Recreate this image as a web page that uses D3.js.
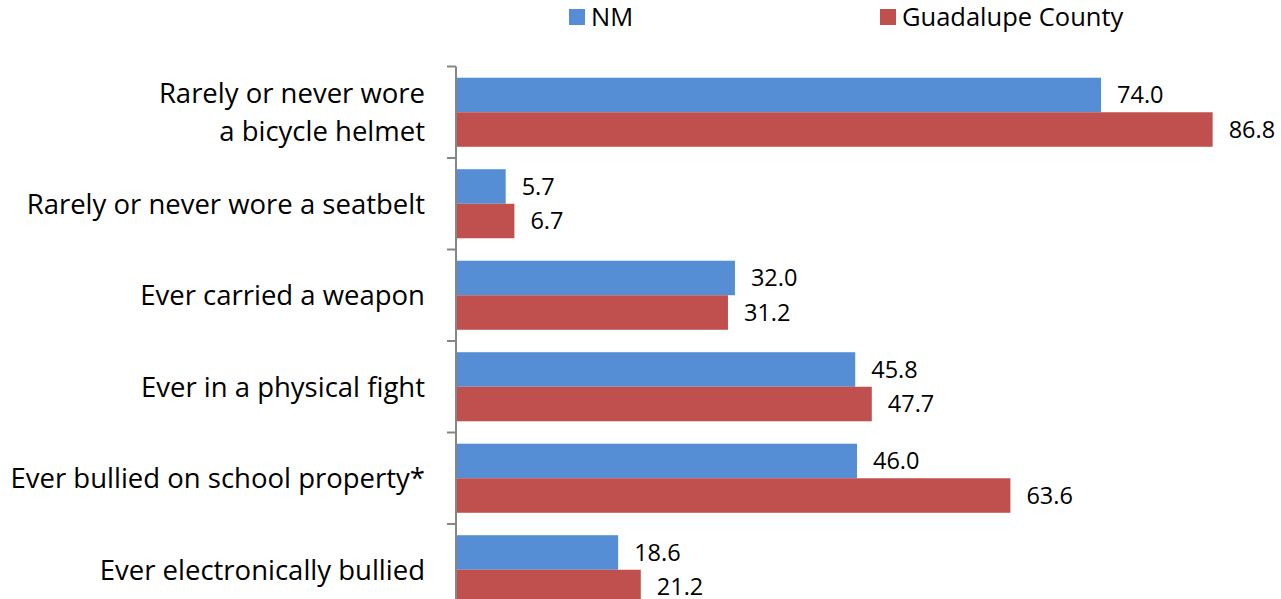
<!DOCTYPE html>
<html>
<head>
<meta charset="utf-8">
<title>Injury and violence indicators</title>
<script src="https://cdn.jsdelivr.net/npm/d3@7/dist/d3.min.js"></script>
<style>
  body { margin: 0; background: #fff; }
  text { font-family: "Open Sans", sans-serif; fill: #000; }
  .axis line { stroke: #868686; stroke-width: 2px; }
</style>
</head>
<body>
<script>
var categories = [
  ["Rarely or never wore", "a bicycle helmet"],
  ["Rarely or never wore a seatbelt"],
  ["Ever carried a weapon"],
  ["Ever in a physical fight"],
  ["Ever bullied on school property*"],
  ["Ever electronically bullied"]
];
var seriesNames = ["NM", "Guadalupe County"];
var nmValues = [74.0, 5.7, 32.0, 45.8, 46.0, 18.6];
var guadalupeValues = [86.8, 6.7, 31.2, 47.7, 63.6, 21.2];
var colors = ["#558ED5", "#C0504D"];

var width = 1281, height = 599;
var svg = d3.select("body").append("svg").attr("width", width).attr("height", height);

var x0 = 456;
var x = d3.scaleLinear().domain([0, 100]).range([x0, x0 + 871.7]);
var y = d3.scaleBand().domain(d3.range(categories.length)).range([66.5, 66.5 + 91.5 * 6]);
var inner = d3.scaleBand().domain([0, 1]).range([0, y.bandwidth()]).paddingOuter(0.325).paddingInner(0);

// axis with ticks on band boundaries
var axisG = svg.append("g").attr("class", "axis");
axisG.append("line").attr("x1", x0).attr("x2", x0).attr("y1", y.range()[0]).attr("y2", y.range()[1] + 10);
axisG.selectAll("line.tick").data(d3.range(categories.length + 1)).enter().append("line")
  .attr("class", "tick")
  .attr("x1", x0 - 9).attr("x2", x0)
  .attr("y1", function(d) { return y.range()[0] + d * y.step(); })
  .attr("y2", function(d) { return y.range()[0] + d * y.step(); });

var data = [nmValues, guadalupeValues];

data.forEach(function(vals, s) {
  var g = svg.append("g");
  g.selectAll("rect").data(vals).enter().append("rect")
    .attr("x", x0 + 1)
    .attr("y", function(d, i) { return y(i) + inner(s); })
    .attr("width", function(d) { return x(d) - x0 - 1; })
    .attr("height", inner.bandwidth())
    .attr("fill", colors[s]);
  g.selectAll("text").data(vals).enter().append("text")
    .attr("x", function(d) { return x(d) + 16; })
    .attr("y", function(d, i) { return y(i) + inner(s) + inner.bandwidth() / 2; })
    .attr("dy", "0.36em")
    .attr("font-size", 23.5)
    .text(function(d) { return d.toFixed(1); });
});

// category labels
var lab = svg.selectAll("text.cat").data(categories).enter().append("text")
  .attr("class", "cat")
  .attr("text-anchor", "end")
  .attr("font-size", 27.5)
  .attr("y", function(d, i) { return y(i) + y.bandwidth() / 2; });
lab.selectAll("tspan").data(function(d) { return d; }).enter().append("tspan")
  .attr("x", 425)
  .attr("dy", function(d, j, nodes) {
    var n = nodes.length;
    return j === 0 ? (0.36 - (n - 1) * 0.7) + "em" : "1.4em";
  })
  .text(function(d) { return d; });

// legend
var legendX = [569, 880];
var leg = svg.selectAll("g.legend").data(seriesNames).enter().append("g")
  .attr("class", "legend")
  .attr("transform", function(d, i) { return "translate(" + legendX[i] + ",0)"; });
leg.append("rect").attr("x", 0).attr("y", 9).attr("width", 16).attr("height", 16)
  .attr("fill", function(d, i) { return colors[i]; });
leg.append("text").attr("x", 22).attr("y", 17).attr("dy", "0.36em").attr("font-size", 25.5)
  .text(function(d) { return d; });
</script>
</body>
</html>
